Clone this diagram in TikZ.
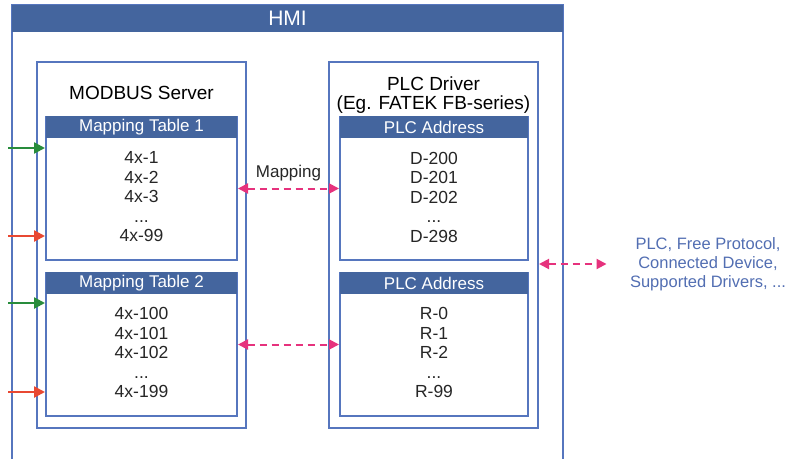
\documentclass[tikz,border=0pt]{standalone}
\usepackage{fontspec}
\setmainfont{Liberation Sans}
\usepackage{tikz}
\usetikzlibrary{arrows.meta}
\definecolor{hmiblue}{RGB}{68,101,158}
\definecolor{lineblue}{RGB}{86,118,190}
\definecolor{textblue}{RGB}{82,110,178}
\definecolor{mappink}{RGB}{230,50,125}
\definecolor{ingreen}{RGB}{40,140,60}
\definecolor{inred}{RGB}{232,72,50}
\tikzset{
    frame/.style={draw=lineblue,line width=2pt},
    box/.style={rectangle,draw=lineblue,line width=2pt,fill=white,inner sep=0pt},
    headbar/.style={rectangle,fill=hmiblue,text=white,inner sep=0pt,font=\fontsize{17}{19}\selectfont},
    entries/.style={align=center,text=black!85,font=\fontsize{17.5}{19.5}\selectfont},
    maparrow/.style={draw=mappink,line width=2pt,dash pattern=on 7pt off 5pt,{Triangle[length=10pt,width=10pt]}-{Triangle[length=10pt,width=10pt]}},
    inarrow/.style={line width=2.5pt,-{Triangle[length=11pt,width=11pt]}}
}

\begin{document}
\begin{tikzpicture}[x=1pt,y=-1pt]
    \useasboundingbox (0,0) rectangle (789,458);
    \draw[frame] (12,5) rectangle (563,480);
    \node[headbar,minimum width=551pt,minimum height=27pt,font=\fontsize{21}{23}\selectfont] (hmi) at (287.5,18.5) {HMI};

    \node[box,minimum width=209pt,minimum height=366pt] (modbus) at (141.5,245) {};
    \node[box,minimum width=209pt,minimum height=366pt] (plc) at (433.5,245) {};
    \node[font=\fontsize{19}{21}\selectfont] (modtitle) at (141.5,93) {MODBUS Server};
    \node[font=\fontsize{19}{18.5}\selectfont,align=center] (plctitle) at (433.5,95) {PLC Driver\\(Eg. FATEK FB-series)};

    % tables
    \node[box,minimum width=191pt,minimum height=143pt] (map1) at (141.5,188.5) {};
    \node[headbar,minimum width=191pt,minimum height=22pt,anchor=north] (map1head) at (map1.north) {Mapping Table 1};
    \node[entries] (map1list) at (141.5,197) {4x-1\\4x-2\\4x-3\\...\\4x-99};

    \node[box,minimum width=191pt,minimum height=143pt] (map2) at (141.5,344.5) {};
    \node[headbar,minimum width=191pt,minimum height=22pt,anchor=north] (map2head) at (map2.north) {Mapping Table 2};
    \node[entries] (map2list) at (141.5,352.5) {4x-100\\4x-101\\4x-102\\...\\4x-199};

    \node[box,minimum width=188pt,minimum height=143pt] (plc1) at (434,188.5) {};
    \node[headbar,minimum width=188pt,minimum height=22pt,anchor=north] (plc1head) at (plc1.north) {PLC Address};
    \node[entries] (plc1list) at (434,197) {D-200\\D-201\\D-202\\...\\D-298};

    \node[box,minimum width=188pt,minimum height=143pt] (plc2) at (434,344.5) {};
    \node[headbar,minimum width=188pt,minimum height=22pt,anchor=north] (plc2head) at (plc2.north) {PLC Address};
    \node[entries] (plc2list) at (434,352.5) {R-0\\R-1\\R-2\\...\\R-99};

    \node[align=center,text=textblue,font=\fontsize{16.5}{19}\selectfont] (remote) at (708,264) {PLC, Free Protocol,\\Connected Device,\\Supported Drivers, ...};

    % arrows
    \draw[maparrow] (map1) -- (plc1) node[midway,above=3pt,text=black!85,font=\fontsize{17}{19}\selectfont] (maplabel) {Mapping};
    \draw[maparrow] (map2) -- (plc2);
    \draw[maparrow,shorten >=20pt] (plc.east |- remote.west) -- (remote.west);

    \coordinate (in1) at (8,148);
    \coordinate (in2) at (8,236);
    \coordinate (in3) at (8,303);
    \coordinate (in4) at (8,392);
    \draw[inarrow,ingreen] (in1) -- (in1 -| map1.west);
    \draw[inarrow,inred] (in2) -- (in2 -| map1.west);
    \draw[inarrow,ingreen] (in3) -- (in3 -| map2.west);
    \draw[inarrow,inred] (in4) -- (in4 -| map2.west);
\end{tikzpicture}
\end{document}
